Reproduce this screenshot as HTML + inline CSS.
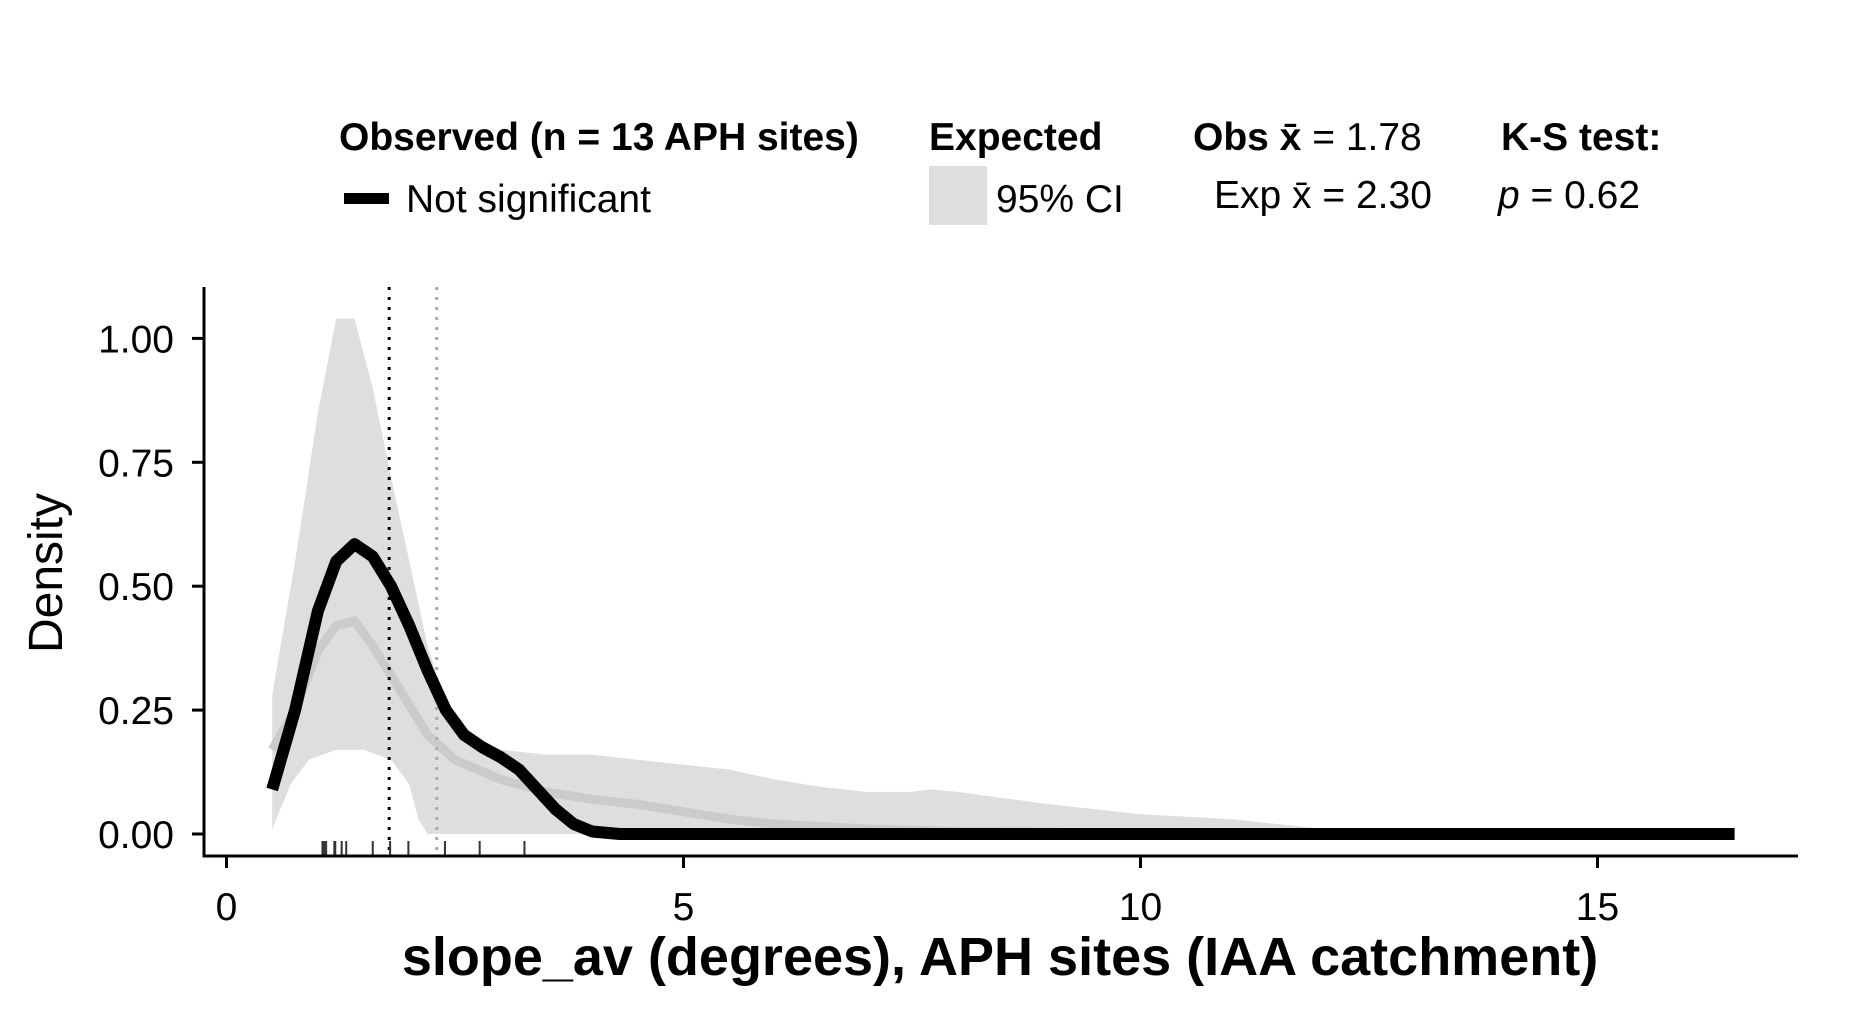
<!DOCTYPE html>
<html><head><meta charset="utf-8"><style>
body{margin:0;background:#fff;}
svg{display:block;font-family:"Liberation Sans",Arial,sans-serif;}
</style></head><body>
<svg id="chart" width="1860" height="1020" viewBox="0 0 1860 1020">
<g id="legend">
<text x="339" y="150" font-size="39" font-weight="bold">Observed (n = 13 APH sites)</text>
<rect x="344" y="193" width="45" height="11" fill="#000"/>
<text x="406" y="212" font-size="39">Not significant</text>
<text x="929" y="150" font-size="39" font-weight="bold">Expected</text>
<rect x="929" y="166" width="58" height="59" fill="#dedede"/>
<text x="996" y="212" font-size="39">95% CI</text>
<text x="1193" y="150" font-size="39"><tspan font-weight="bold">Obs x̄</tspan> = 1.78</text>
<text x="1214" y="208" font-size="39">Exp x̄ = 2.30</text>
<text x="1501" y="150" font-size="39" font-weight="bold">K-S test:</text>
<text x="1498" y="208" font-size="39"><tspan font-style="italic">p</tspan> = 0.62</text>
</g>
<g id="plot"></g>
<text x="1000" y="975" font-size="54" font-weight="bold" text-anchor="middle">slope_av (degrees), APH sites (IAA catchment)</text>
<text transform="translate(62,573) rotate(-90)" font-size="48" text-anchor="middle">Density</text>
</svg>
<script>
const obsX=[0.5,0.75,1.0,1.2,1.4,1.6,1.8,2.0,2.2,2.4,2.6,2.8,3.0,3.2,3.4,3.6,3.8,4.0,4.3,16.5];
const obsY=[0.09,0.25,0.45,0.55,0.585,0.56,0.5,0.42,0.33,0.25,0.2,0.175,0.155,0.13,0.09,0.05,0.02,0.005,0,0];
const expX=[0.5,0.75,1.0,1.2,1.4,1.6,1.8,2.0,2.2,2.5,3.0,3.5,4,4.5,5,5.5,6,7,8,10,12,16.5];
const expY=[0.17,0.25,0.37,0.42,0.43,0.38,0.32,0.26,0.2,0.15,0.11,0.085,0.07,0.06,0.045,0.03,0.02,0.01,0.005,0.002,0,0];
const upX=[0.5,0.75,1.0,1.2,1.4,1.6,1.8,2.0,2.2,2.4,2.6,3,3.5,4,4.5,5,5.5,6,6.5,7,7.5,7.7,8,9,10,11,12,12.5,13,16.5];
const upY=[0.28,0.55,0.85,1.04,1.04,0.9,0.72,0.55,0.38,0.26,0.2,0.17,0.16,0.16,0.15,0.14,0.13,0.11,0.095,0.085,0.085,0.09,0.085,0.06,0.04,0.03,0.01,0.003,0,0];
const loX=[0.5,0.7,0.9,1.2,1.5,1.8,2.0,2.1,2.2,16.5];
const loY=[0.01,0.1,0.15,0.17,0.17,0.15,0.1,0.03,0,0];
const rug=[1.05,1.07,1.09,1.18,1.19,1.26,1.31,1.6,1.79,1.99,2.39,2.77,3.26];
const obsMean=1.78, expMean=2.30;
const xTicks=[0,5,10,15];
const yTicks=[0,0.25,0.5,0.75,1.0];
const yTickLabels=["0.00","0.25","0.50","0.75","1.00"];

const sx=v=>226.5+v*91.4;
const sy=v=>834-v*495.6;
const NS="http://www.w3.org/2000/svg";
const g=document.getElementById('plot');
function mk(t,a){const e=document.createElementNS(NS,t);for(const k in a)e.setAttribute(k,a[k]);g.appendChild(e);return e;}
function line(xs,ys){return xs.map((x,i)=>(i?'L':'M')+sx(x).toFixed(1)+','+sy(ys[i]).toFixed(1)).join(' ');}

let d=line(upX,upY);
for(let i=loX.length-1;i>=0;i--)d+=' L'+sx(loX[i]).toFixed(1)+','+sy(loY[i]).toFixed(1);
const band=mk('path',{d:d+'Z',fill:'#dedede'});



const em=mk('path',{d:line(expX,expY),fill:'none',stroke:'#cbcbcb','stroke-width':9,'stroke-linejoin':'round'});



const v1=mk('line',{x1:sx(obsMean),x2:sx(obsMean),y1:287,y2:856,stroke:'#000','stroke-width':3,'stroke-dasharray':'3,7'});


const v2=mk('line',{x1:sx(expMean),x2:sx(expMean),y1:287,y2:856,stroke:'#aaa','stroke-width':3,'stroke-dasharray':'3,7'});



const ob=mk('path',{d:line(obsX,obsY),fill:'none',stroke:'#000','stroke-width':12,'stroke-linejoin':'round'});



rug.forEach(r=>{const e=mk('line',{x1:sx(r),x2:sx(r),y1:841,y2:856,stroke:'#333','stroke-width':2});

});

const ax=mk('path',{d:'M204,287 L204,856 L1798,856',fill:'none',stroke:'#000','stroke-width':3});



yTicks.forEach((t,i)=>{
 const tk=mk('line',{x1:192,x2:204,y1:sy(t),y2:sy(t),stroke:'#000','stroke-width':3});
 
 
 const tx=mk('text',{x:174,y:sy(t)+14,'font-size':39,'text-anchor':'end',fill:'#000'});
 tx.textContent=yTickLabels[i];
 
 
});
xTicks.forEach(t=>{
 const tk=mk('line',{x1:sx(t),x2:sx(t),y1:856,y2:868,stroke:'#000','stroke-width':3});
 
 
 const tx=mk('text',{x:sx(t),y:920,'font-size':39,'text-anchor':'middle',fill:'#000'});
 tx.textContent=t;
 
 
});
</script>
</body></html>
